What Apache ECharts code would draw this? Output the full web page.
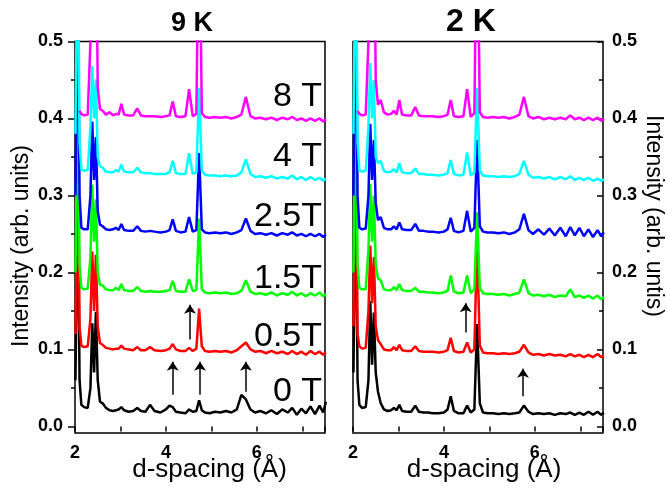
<!DOCTYPE html>
<html>
<head>
<meta charset="utf-8">
<title>d-spacing 9 K / 2 K</title>
<script src="https://cdn.jsdelivr.net/npm/echarts@6/dist/echarts.min.js"></script>
<style>
  html, body { margin:0; padding:0; background:#fff; }
  #chart { width:667px; height:493px; }
</style>
</head>
<body>
<div id="chart"></div>
<script>
// d-spacing grid (Å), shared by every trace
var dSpacing = [2.01,2.04,2.07,2.10,2.14,2.20,2.28,2.34,2.38,2.42,
  2.46,2.50,2.55,2.61,2.68,2.76,2.84,2.90,2.96,3.02,
  3.08,3.18,3.28,3.37,3.45,3.55,3.65,3.75,3.88,4.00,
  4.08,4.15,4.22,4.32,4.43,4.51,4.59,4.67,4.73,4.79,
  4.86,4.96,5.08,5.20,5.32,5.44,5.56,5.66,5.76,5.86,
  5.96,6.08,6.20,6.32,6.44,6.56,6.68,6.78,6.88,6.98,
  7.08,7.18,7.28,7.38,7.46,7.52];

// 9 K traces (offset intensity)
var k9_0T = [0.06,0.20,0.27,0.06,0.028,0.025,0.024,0.05,0.134,0.07,
  0.149,0.06,0.032,0.03,0.024,0.021,0.02,0.021,0.022,0.025,
  0.021,0.019,0.02,0.024,0.02,0.019,0.028,0.02,0.018,0.022,
  0.027,0.025,0.019,0.018,0.017,0.022,0.019,0.02,0.034,0.021,
  0.018,0.017,0.019,0.018,0.02,0.018,0.022,0.041,0.035,0.022,
  0.018,0.02,0.017,0.021,0.016,0.022,0.018,0.024,0.015,0.023,
  0.017,0.026,0.016,0.027,0.018,0.032];
var k9_05T = [0.12,0.25,0.34,0.13,0.105,0.103,0.104,0.14,0.227,0.15,
  0.223,0.13,0.108,0.106,0.102,0.101,0.1,0.101,0.101,0.105,
  0.101,0.1,0.099,0.103,0.099,0.099,0.103,0.099,0.098,0.099,
  0.101,0.107,0.1,0.098,0.098,0.102,0.098,0.101,0.153,0.104,
  0.098,0.097,0.098,0.097,0.098,0.096,0.099,0.104,0.109,0.1,
  0.097,0.098,0.095,0.098,0.095,0.097,0.094,0.098,0.094,0.097,
  0.093,0.098,0.094,0.097,0.093,0.096];
var k9_15T = [0.2,0.35,0.417,0.21,0.18,0.178,0.179,0.22,0.314,0.24,
  0.295,0.2,0.184,0.183,0.178,0.177,0.177,0.18,0.177,0.185,
  0.177,0.176,0.176,0.181,0.176,0.175,0.176,0.175,0.175,0.176,
  0.177,0.189,0.176,0.175,0.175,0.191,0.176,0.177,0.27,0.178,
  0.174,0.173,0.174,0.173,0.174,0.172,0.173,0.176,0.19,0.175,
  0.172,0.173,0.171,0.174,0.17,0.173,0.171,0.175,0.17,0.173,
  0.169,0.173,0.17,0.174,0.169,0.172];
var k9_25T = [0.3,0.45,0.55,0.3,0.258,0.256,0.256,0.3,0.396,0.32,
  0.376,0.28,0.262,0.26,0.256,0.255,0.256,0.258,0.255,0.263,
  0.255,0.254,0.254,0.26,0.254,0.253,0.254,0.253,0.252,0.253,
  0.255,0.269,0.254,0.252,0.253,0.272,0.253,0.255,0.355,0.256,
  0.252,0.251,0.252,0.251,0.252,0.25,0.252,0.255,0.27,0.254,
  0.25,0.251,0.249,0.251,0.248,0.251,0.249,0.252,0.248,0.25,
  0.247,0.25,0.247,0.25,0.246,0.249];
var k9_4T = [0.38,0.55,0.6,0.37,0.334,0.332,0.333,0.39,0.468,0.4,
  0.451,0.35,0.338,0.336,0.331,0.33,0.33,0.333,0.331,0.34,
  0.331,0.33,0.33,0.336,0.33,0.329,0.329,0.328,0.328,0.328,
  0.33,0.345,0.329,0.328,0.328,0.355,0.328,0.33,0.44,0.332,
  0.327,0.326,0.326,0.325,0.326,0.325,0.326,0.33,0.347,0.328,
  0.324,0.325,0.323,0.325,0.322,0.324,0.322,0.326,0.321,0.324,
  0.32,0.324,0.32,0.323,0.319,0.322];
var k9_8T = [null,null,null,0.41,0.406,0.404,0.405,0.5,0.7,0.7,
  0.7,0.44,0.412,0.41,0.405,0.408,0.404,0.406,0.405,0.419,
  0.405,0.404,0.404,0.413,0.404,0.403,0.403,0.403,0.402,0.403,
  0.404,0.422,0.403,0.402,0.403,0.438,0.403,0.406,0.7,0.407,
  0.402,0.401,0.402,0.401,0.402,0.4,0.402,0.405,0.428,0.403,
  0.4,0.401,0.399,0.401,0.398,0.401,0.399,0.402,0.398,0.4,
  0.397,0.4,0.397,0.4,0.396,0.399];

// 2 K traces
var k2_0T = [0.07,0.22,0.28,0.06,0.028,0.024,0.025,0.06,0.163,0.08,
  0.148,0.07,0.045,0.03,0.022,0.02,0.021,0.024,0.021,0.028,
  0.02,0.019,0.019,0.027,0.019,0.018,0.018,0.017,0.017,0.018,
  0.022,0.039,0.02,0.017,0.017,0.027,0.018,0.022,0.133,0.03,
  0.018,0.017,0.017,0.016,0.017,0.016,0.017,0.018,0.027,0.019,
  0.016,0.017,0.016,0.017,0.015,0.017,0.016,0.018,0.015,0.018,
  0.015,0.019,0.015,0.019,0.015,0.018];
var k2_05T = [0.13,0.27,0.35,0.12,0.104,0.101,0.102,0.15,0.235,0.16,
  0.22,0.13,0.112,0.107,0.1,0.099,0.099,0.103,0.099,0.106,
  0.099,0.098,0.098,0.104,0.098,0.097,0.097,0.097,0.096,0.097,
  0.099,0.115,0.098,0.096,0.097,0.109,0.096,0.1,0.24,0.105,
  0.096,0.095,0.095,0.094,0.095,0.094,0.095,0.097,0.106,0.096,
  0.093,0.094,0.092,0.094,0.092,0.093,0.091,0.094,0.091,0.093,
  0.09,0.093,0.09,0.094,0.09,0.092];
var k2_15T = [0.2,0.36,0.42,0.21,0.18,0.178,0.178,0.23,0.315,0.24,
  0.3,0.21,0.192,0.19,0.178,0.177,0.177,0.181,0.177,0.185,
  0.177,0.176,0.176,0.18,0.175,0.175,0.174,0.174,0.173,0.174,
  0.176,0.196,0.175,0.173,0.174,0.196,0.173,0.178,0.278,0.18,
  0.173,0.172,0.172,0.171,0.172,0.17,0.172,0.174,0.191,0.173,
  0.17,0.171,0.169,0.171,0.168,0.17,0.169,0.178,0.168,0.17,
  0.167,0.17,0.166,0.17,0.165,0.168];
var k2_25T = [0.3,0.46,0.56,0.3,0.258,0.256,0.257,0.3,0.393,0.32,
  0.372,0.29,0.268,0.272,0.258,0.256,0.256,0.26,0.256,0.265,
  0.256,0.255,0.255,0.263,0.254,0.254,0.253,0.253,0.252,0.253,
  0.256,0.271,0.254,0.252,0.254,0.28,0.253,0.258,0.372,0.26,
  0.253,0.252,0.252,0.251,0.252,0.25,0.252,0.256,0.276,0.255,
  0.25,0.256,0.249,0.257,0.248,0.258,0.247,0.259,0.248,0.258,
  0.247,0.256,0.246,0.255,0.247,0.252];
var k2_4T = [0.38,0.55,0.62,0.37,0.333,0.331,0.332,0.39,0.472,0.4,
  0.45,0.35,0.342,0.345,0.332,0.33,0.331,0.334,0.33,0.342,
  0.33,0.329,0.329,0.335,0.328,0.328,0.327,0.327,0.326,0.327,
  0.329,0.346,0.328,0.326,0.327,0.356,0.326,0.33,0.44,0.332,
  0.326,0.325,0.325,0.324,0.325,0.324,0.325,0.328,0.345,0.327,
  0.323,0.324,0.322,0.324,0.321,0.324,0.321,0.325,0.32,0.323,
  0.32,0.323,0.319,0.322,0.319,0.321];
var k2_8T = [null,null,null,0.41,0.406,0.404,0.405,0.5,0.7,0.7,
  0.7,0.45,0.418,0.424,0.408,0.405,0.406,0.41,0.405,0.424,
  0.405,0.404,0.404,0.415,0.404,0.403,0.403,0.403,0.402,0.403,
  0.405,0.424,0.403,0.402,0.403,0.438,0.402,0.407,0.7,0.408,
  0.402,0.401,0.402,0.401,0.402,0.4,0.402,0.405,0.428,0.403,
  0.4,0.402,0.399,0.401,0.399,0.401,0.399,0.404,0.399,0.401,
  0.398,0.401,0.398,0.401,0.397,0.4];

var fieldNames = ['0 T', '0.5T', '1.5T', '2.5T', '4 T', '8 T'];
var lineColors = ['#000000', '#ff0000', '#00ff00', '#0000ff', '#00ffff', '#ff00ff'];
var traces9K = [k9_0T, k9_05T, k9_15T, k9_25T, k9_4T, k9_8T];
var traces2K = [k2_0T, k2_05T, k2_15T, k2_25T, k2_4T, k2_8T];

// arrows: [d, y start, y tip]
var arrows9K = [[4.15, 0.041, 0.084], [4.75, 0.041, 0.084], [5.76, 0.045, 0.084], [4.53, 0.113, 0.158]];
var arrows2K = [[4.48, 0.122, 0.160], [5.74, 0.039, 0.075]];

var yMajor = [0, 0.1, 0.2, 0.3, 0.4, 0.5];
var yMinor = [0.05, 0.15, 0.25, 0.35, 0.45];

var FONT = "'Liberation Sans', Arial, sans-serif";

function pairs(ys) {
  return dSpacing.map(function(d, i) { return [d, ys[i]]; });
}

function arrowLines(list) {
  return list.map(function(a) {
    return [{coord: [a[0], a[1]]}, {coord: [a[0], a[2]]}];
  });
}

function makeSeries(traces, axisIdx, arrows) {
  var out = [];
  for (var i = 0; i < traces.length; i++) {
    var s = {
      type: 'line',
      name: fieldNames[i],
      xAxisIndex: axisIdx,
      yAxisIndex: axisIdx,
      data: pairs(traces[i]),
      showSymbol: false,
      connectNulls: false,
      clip: true,
      animation: false,
      lineStyle: {color: lineColors[i], width: 2.5},
      itemStyle: {color: lineColors[i]}
    };
    if (i === 0) {
      s.markLine = {
        silent: true,
        animation: false,
        symbol: ['none', 'arrow'],
        symbolSize: 9,
        label: {show: false},
        lineStyle: {color: '#000', width: 1.5, type: 'solid'},
        data: arrowLines(arrows)
      };
    }
    out.push(s);
  }
  return out;
}

function xBottom(gi) {
  return {
    gridIndex: gi, type: 'value', position: 'bottom', min: 2, max: 7.5, interval: 1,
    axisLine: {show: false},
    axisTick: {show: true, inside: false, length: 5, lineStyle: {color: '#000', width: 1.5}},
    axisLabel: {
      color: '#000', fontSize: 18, fontWeight: 'bold', fontFamily: FONT, margin: 11,
      formatter: function(v) { return (v % 2 === 0) ? String(v) : ''; }
    },
    splitLine: {show: false}
  };
}
function xTop(gi) {
  return {
    gridIndex: gi, type: 'value', position: 'top', min: 2, max: 7.5, interval: 1,
    axisLine: {show: false},
    axisTick: {show: true, inside: true, length: 4, lineStyle: {color: '#000', width: 1.5}},
    axisLabel: {show: false},
    splitLine: {show: false}
  };
}
function yMain(gi, pos, inside) {
  return {
    gridIndex: gi, type: 'value', position: pos, min: -0.0086, max: 0.5,
    axisLine: {show: false},
    axisTick: {show: true, inside: inside, length: inside ? 6 : 7, customValues: yMajor,
      lineStyle: {color: '#000', width: 1.5}},
    axisLabel: {
      customValues: yMajor, color: '#000', fontSize: 18, fontWeight: 'bold', fontFamily: FONT,
      margin: inside ? 9 : 12,
      formatter: function(v) { return v.toFixed(1); }
    },
    splitLine: {show: false}
  };
}
function yMinorAxis(gi, pos, inside) {
  return {
    gridIndex: gi, type: 'value', position: pos, min: -0.0086, max: 0.5,
    axisLine: {show: false},
    axisTick: {show: true, inside: inside, length: 4, customValues: yMinor,
      lineStyle: {color: '#000', width: 1.5}},
    axisLabel: {show: false},
    splitLine: {show: false}
  };
}

function txt(x, y, text, size, weight, align, rot) {
  return {
    type: 'text', x: x, y: y, rotation: rot || 0, silent: true,
    style: {
      text: text, fill: '#000', fontSize: size, fontWeight: weight, fontFamily: FONT,
      align: align, textAlign: align, verticalAlign: 'middle', textVerticalAlign: 'middle'
    }
  };
}

var labelY = [391.5, 337, 278.5, 217, 157, 97];
var graphics = [
  txt(192, 23.3, '9 K', 27, 'bold', 'center'),
  txt(471, 22, '2 K', 32, 'bold', 'center'),
  txt(209.5, 469.5, 'd-spacing (Å)', 26, 'normal', 'center'),
  txt(484, 469.5, 'd-spacing (Å)', 26, 'normal', 'center'),
  // rotated titles: measured offset of ~12px along the text direction corrected here
  txt(22, 246, 'Intensity (arb. units)', 23, 'normal', 'center', Math.PI / 2),
  txt(653, 216, 'Intensity (arb. untis)', 23, 'normal', 'center', -Math.PI / 2)
];
for (var i = 0; i < fieldNames.length; i++) {
  graphics.push(txt(322, labelY[i], fieldNames[i], 34, 'normal', 'right'));
}

var option = {
  backgroundColor: '#fff',
  animation: false,
  grid: [
    {left: 75, top: 41.5, width: 250, height: 391.5, show: true, borderColor: '#000', borderWidth: 1.5, backgroundColor: 'transparent'},
    {left: 353, top: 41.5, width: 250, height: 391.5, show: true, borderColor: '#000', borderWidth: 1.5, backgroundColor: 'transparent'}
  ],
  xAxis: [xBottom(0), xTop(0), xBottom(1), xTop(1)],
  yAxis: [yMain(0, 'left', false), yMinorAxis(0, 'left', false), yMain(1, 'right', true), yMinorAxis(1, 'right', true)],
  series: makeSeries(traces9K, 0, arrows9K).concat(makeSeries(traces2K, 2, arrows2K)),
  graphic: graphics
};

var chart = echarts.init(document.getElementById('chart'), null, {renderer: 'canvas'});
chart.setOption(option);
</script>
</body>
</html>
